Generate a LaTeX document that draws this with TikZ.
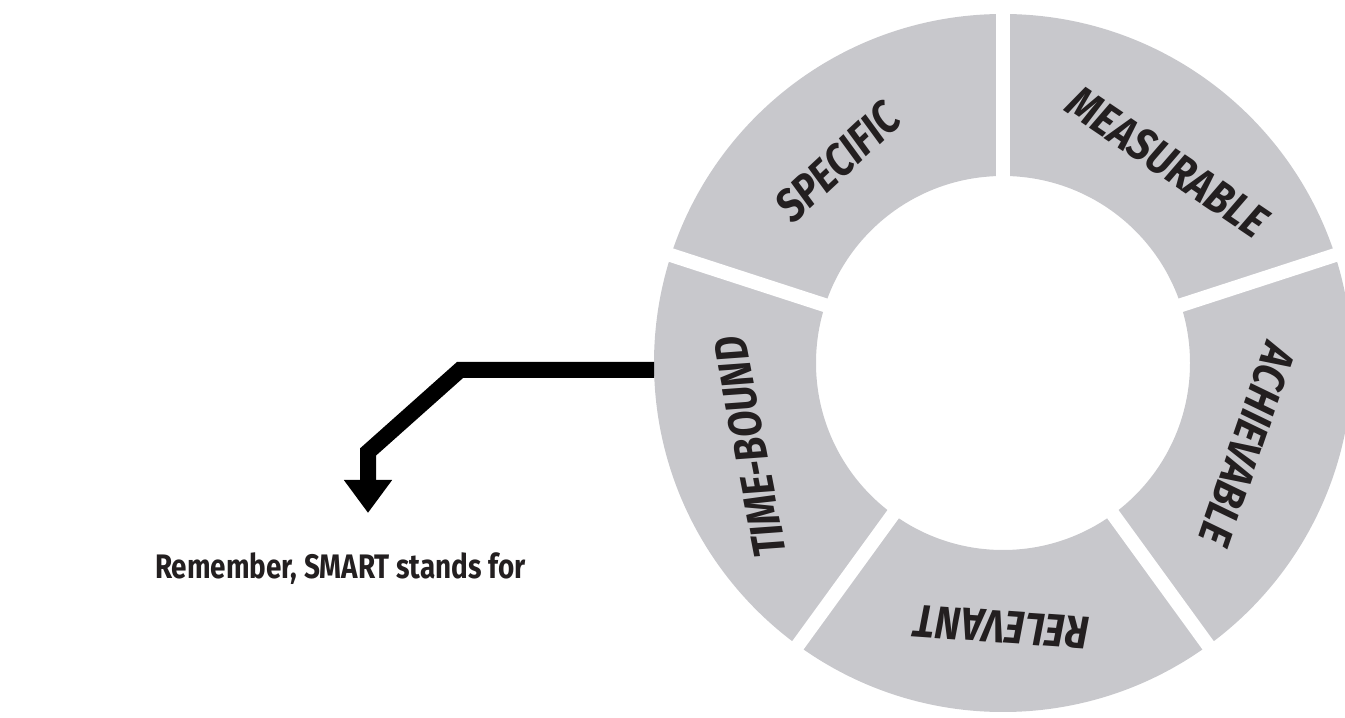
\documentclass[tikz,border=0pt]{standalone}
\usepackage{fontspec}
\setmainfont{Fira Sans}
\newfontfamily\labelfont{Fira Sans}[FakeStretch=0.85]
\newfontfamily\textcondfont{Fira Sans}[FakeStretch=0.82]
\usetikzlibrary{arrows.meta}
\definecolor{ringgray}{RGB}{200,200,204}
\definecolor{ink}{RGB}{35,31,32}
\tikzset{
  seglabel/.style={font=\labelfont\fontsize{46}{46}\selectfont\bfseries\itshape, text=ink, inner sep=0pt, anchor=center},
  gapline/.style={white, line width=14pt},
  conn/.style={black, line width=16pt, line join=miter, -{Triangle[width=46pt,length=33pt]}},
  maintext/.style={font=\textcondfont\fontsize{34}{34}\selectfont\bfseries, text=ink, inner sep=0pt, anchor=base west}
}
\begin{document}
\begin{tikzpicture}[x=1pt,y=1pt]
\useasboundingbox (0,0) rectangle (1345,718);
\coordinate (c) at (1003,355);
% ring
\fill[ringgray, even odd rule] (c) circle (349) (c) circle (187);
\foreach \a in {90,18,-54,-126,162}{
  \draw[gapline] (c) ++(\a:175) -- ++(\a:200);
}
% labels
\node[seglabel, rotate=43] (spec) at (838,556) {SPECIFIC};
\node[seglabel, rotate=-34] (meas) at (1168,556) {MEASURABLE};
\node[seglabel, rotate=-109] (ach) at (1247,273) {ACHIEVABLE};
\node[seglabel, rotate=176] (rel) at (1002,91) {RELEVANT};
\node[seglabel, rotate=101] (tbnd) at (750,271) {TIME-BOUND};
% text
\node[maintext] (smart) at (155,139) {Remember, SMART stands for};
% connector
\coordinate (tb) at (654,348);
\coordinate (k1) at (460,348);
\coordinate (k2) at (368,266);
\coordinate (tip) at (368,205);
\draw[conn] (tb) -- (k1) -- (k2) -- (tip);
\end{tikzpicture}
\end{document}
